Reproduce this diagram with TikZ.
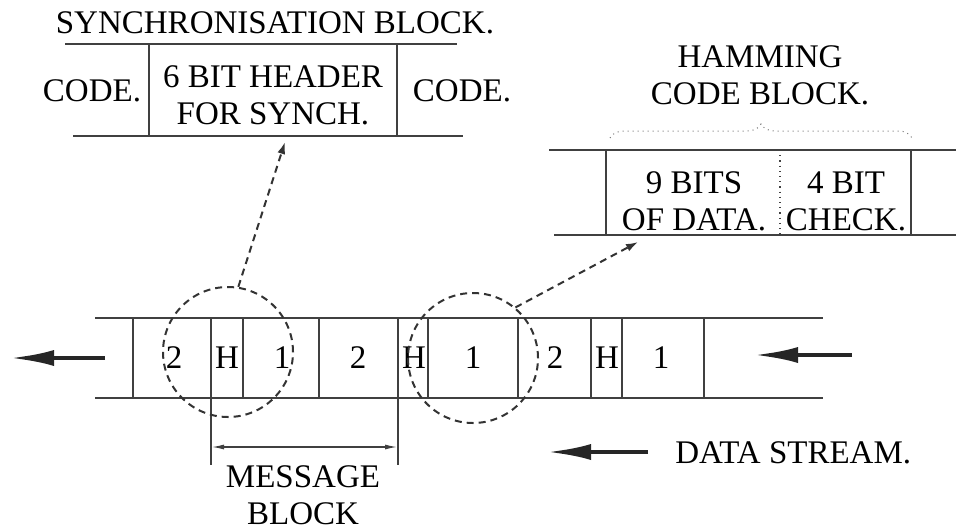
\documentclass[tikz,border=0pt]{standalone}
\usepackage{fontspec}
\setmainfont{Liberation Serif}
\usetikzlibrary{arrows.meta,decorations.pathreplacing}
\tikzset{
  lbl/.style      = {font=\fontsize{16.5}{18.5}\selectfont, align=center, inner sep=0pt},
  cellline/.style = {draw=black!75, line width=0.6pt},
  bigarrow/.style = {draw=black!85, line width=2.2pt, -{Latex[length=22pt,width=8pt]}},
  dasharrow/.style= {draw=black!80, line width=1pt, dash pattern=on 3.5pt off 2.5pt, -{Latex[length=6pt,width=4pt]}},
  dashring/.style = {circle, draw=black!80, line width=1pt, dash pattern=on 3.5pt off 2.5pt, minimum size=65pt, inner sep=0pt},
}
\begin{document}
\begin{tikzpicture}[x=0.5pt, y=-0.5pt]
        \useasboundingbox (0,0) rectangle (956,530);
        % synchronisation block
        \coordinate (synchtl)  at ( 65, 44);
        \coordinate (synchtr)  at (457, 44);
        \coordinate (synchbl)  at ( 73,136);
        \coordinate (synchbr)  at (463,136);
        \draw[cellline] (synchtl) -- (synchtr);
        \draw[cellline] (synchbl) -- (synchbr);
        \draw[cellline] (149,44) -- (149,136);
        \draw[cellline] (397,44) -- (397,136);
        \node[lbl] (synchtitle) at (275, 23) {SYNCHRONISATION BLOCK.};
        \node[lbl] (codeleft)   at ( 92, 91) {CODE.};
        \node[lbl] (header)     at (273, 95) {6 BIT HEADER\\FOR SYNCH.};
        \node[lbl] (coderight)  at (462, 91) {CODE.};
        % hamming code block
        \coordinate (hamtl)    at (549,150);
        \coordinate (hamtr)    at (956,150);
        \coordinate (hambl)    at (554,235);
        \coordinate (hambr)    at (956,235);
        \draw[cellline] (hamtl) -- (hamtr);
        \draw[cellline] (hambl) -- (hambr);
        \draw[cellline] (606,150) -- (606,235);
        \draw[cellline] (911,150) -- (911,235);
        \draw[draw=black!75, line width=0.6pt, dotted] (780,150) -- (780,235);
        \node[lbl] (hamtitle)  at (760, 75) {HAMMING\\CODE BLOCK.};
        \node[lbl] (databits)  at (694,201) {9 BITS\\OF DATA.};
        \node[lbl] (checkbits) at (846,201) {4 BIT\\CHECK.};
        \draw[draw=black!55, line width=0.5pt, dotted, decorate, decoration={brace, amplitude=7pt}]
              (610,138) -- (912,138);
        % data stream
        \coordinate (streamtl) at ( 95,318);
        \coordinate (streamtr) at (823,318);
        \coordinate (streambl) at ( 95,398);
        \coordinate (streambr) at (823,398);
        \draw[cellline] (streamtl) -- (streamtr);
        \draw[cellline] (streambl) -- (streambr);
        \foreach \x in {133,211,243,319,398,428,518,591,622,704}
          \draw[cellline] (\x,318) -- (\x,398);
        \foreach \x/\t [count=\i] in {174/2,227/H,282/1,358/2,414/H,473/1,555/2,607/H,661/1}
          \node[lbl] (cell\i) at (\x,358) {\t};
        % message block
        \draw[cellline] (211,398) -- (211,465);
        \draw[cellline] (398,398) -- (398,465);
        \coordinate (msgleft)  at (212,447);
        \coordinate (msgright) at (397,447);
        \draw[draw=black!75, line width=0.6pt, {Latex[length=6pt,width=2.5pt]}-{Latex[length=6pt,width=2.5pt]}]
              (msgleft) -- (msgright);
        \node[lbl] (msgblock) at (303,495) {MESSAGE\\BLOCK};
        % rings and pointers
        \node[dashring] (synchring) at (228,352) {};
        \node[dashring] (hamring)   at (473,358) {};
        \coordinate (synchtip) at (285,142);
        \coordinate (hamtip)   at (638,242);
        \draw[dasharrow] (synchring.81) -- (synchtip);
        \draw[dasharrow] (hamring.50)   -- (hamtip);
        % flow arrows
        \coordinate (outtail)  at (105,358);
        \coordinate (outhead)  at ( 10,358);
        \coordinate (intail)   at (852,355);
        \coordinate (inhead)   at (754,355);
        \coordinate (keytail)  at (648,452);
        \coordinate (keyhead)  at (547,452);
        \draw[bigarrow] (outtail) -- (outhead);
        \draw[bigarrow] (intail)  -- (inhead);
        \draw[bigarrow] (keytail) -- (keyhead);
        \node[lbl, anchor=west] (streamkey) at (675,453) {DATA STREAM.};
      \end{tikzpicture}
\end{document}
